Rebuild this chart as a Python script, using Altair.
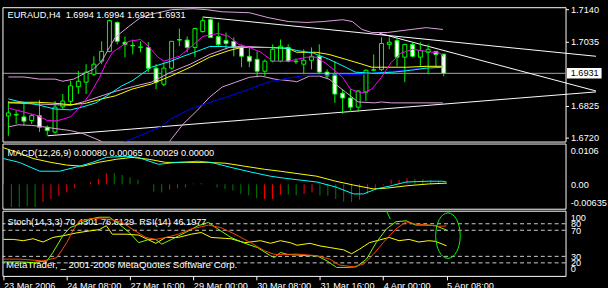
import altair as alt
import pandas as pd

W = 570
H_MAIN, H_MACD, H_STO = 136, 66, 66
FONT = "Liberation Sans"
FS = 9.3

# ---------------- data ----------------
title_text = "EURAUD,H4\u00a0\u00a01.6994 1.6994 1.6921 1.6931"
macd_text = "MACD(12,26,9) 0.00080 0.00065 0.00029 0.00000"
stoch_text = "Stoch(14,3,3) 70.4301 76.6129\u00a0\u00a0RSI(14) 46.1977"
copy_text = "MetaTrader, _ 2001-2006 MetaQuotes Software Corp."

date_labels = ["23 Mar 2006", "24 Mar 08:00", "27 Mar 16:00", "29 Mar 00:00",
               "30 Mar 08:00", "31 Mar 16:00", "4 Apr 00:00", "5 Apr 08:00"]
date_ticks = [0, 8, 16, 24, 32, 40, 48, 56]
price_ticks = [1.7140, 1.7035, 1.6825, 1.6720]
bid = 1.6931

opens = [1.6791, 1.6796, 1.6788, 1.6776, 1.6792, 1.6754, 1.6738, 1.6821, 1.6839, 1.6887,
         1.6902, 1.6928, 1.6971, 1.7003, 1.7098, 1.7033, 1.7023, 1.7016, 1.7016, 1.6948,
         1.6895, 1.6948, 1.7042, 1.7040, 1.7016, 1.7068, 1.7107, 1.7052, 1.7039, 1.7036,
         1.7016, 1.6987, 1.6977, 1.6938, 1.6971, 1.6971, 1.7016, 1.6971, 1.6961, 1.6974,
         1.6987, 1.6935, 1.6928, 1.6866, 1.6850, 1.6820, 1.6869, 1.6941, 1.6943, 1.7026,
         1.7039, 1.6984, 1.7026, 1.6984, 1.7000, 1.7003, 1.6994]
highs = [1.6840, 1.6809, 1.6834, 1.6798, 1.6843, 1.6760, 1.6840, 1.6863, 1.6906, 1.6939,
         1.6961, 1.6987, 1.7036, 1.7107, 1.7101, 1.7052, 1.7042, 1.7036, 1.7033, 1.6961,
         1.6967, 1.7036, 1.7078, 1.7052, 1.7081, 1.7114, 1.7111, 1.7098, 1.7065, 1.7049,
         1.7026, 1.7016, 1.7003, 1.6977, 1.7026, 1.7042, 1.7026, 1.6980, 1.7010, 1.7016,
         1.7026, 1.6944, 1.6971, 1.6879, 1.6879, 1.6876, 1.6944, 1.6993, 1.7049, 1.7049,
         1.7049, 1.7026, 1.7033, 1.7033, 1.7026, 1.7003, 1.6994]
lows = [1.6726, 1.6765, 1.6760, 1.6765, 1.6739, 1.6727, 1.6733, 1.6814, 1.6825, 1.6863,
        1.6863, 1.6922, 1.6961, 1.7000, 1.7026, 1.6984, 1.6993, 1.7000, 1.6935, 1.6879,
        1.6889, 1.6944, 1.7020, 1.7000, 1.6984, 1.7065, 1.7049, 1.7020, 1.7010, 1.6987,
        1.6951, 1.6951, 1.6918, 1.6922, 1.6967, 1.6967, 1.6967, 1.6961, 1.6928, 1.6944,
        1.6928, 1.6912, 1.6834, 1.6798, 1.6804, 1.6804, 1.6840, 1.6938, 1.6938, 1.7010,
        1.6954, 1.6902, 1.6984, 1.6954, 1.6928, 1.6954, 1.6921]
closes = [1.6801, 1.6794, 1.6774, 1.6792, 1.6754, 1.6743, 1.6820, 1.6840, 1.6890, 1.6905,
          1.6935, 1.6961, 1.7003, 1.7104, 1.7036, 1.7026, 1.7021, 1.7018, 1.6948, 1.6902,
          1.6948, 1.7036, 1.7040, 1.7016, 1.7078, 1.7104, 1.7049, 1.7026, 1.7029, 1.7016,
          1.6987, 1.6971, 1.6938, 1.6971, 1.7010, 1.7020, 1.6971, 1.6969, 1.6974, 1.6987,
          1.6935, 1.6922, 1.6863, 1.6850, 1.6820, 1.6873, 1.6941, 1.6943, 1.7029, 1.7033,
          1.6984, 1.7026, 1.6987, 1.7006, 1.7010, 1.6993, 1.6931]

magenta_bar = [0, 2, 3.75, 5, 6.25, 8, 9.25, 10.5, 11.75, 12.5, 13.4, 15.5, 17, 18, 19.25, 20,
               22, 23.4, 25, 27, 28.4, 29.6, 31, 32.5, 34, 36, 38.4, 39.6, 41, 43, 44, 45.5,
               46.75, 48, 49.25, 50.5, 52, 53.75, 55.5, 56]
magenta_val = [1.6817, 1.6804, 1.6792, 1.6776, 1.6775, 1.6788, 1.6821, 1.6863, 1.6918, 1.6961,
               1.7000, 1.7036, 1.7042, 1.7020, 1.6984, 1.6971, 1.6987, 1.7016, 1.7052, 1.7062,
               1.7052, 1.7026, 1.7016, 1.7000, 1.6971, 1.6971, 1.6984, 1.6984, 1.6961, 1.6918,
               1.6879, 1.6866, 1.6879, 1.6918, 1.6967, 1.6997, 1.7010, 1.7003, 1.6997, 1.6987]

cyan_bar = [0, 1.25, 3.75, 5.9, 8, 9.6, 11.25, 13, 14.6, 15.9, 18.4, 20.9, 22.5, 24.25, 25.9,
            27.5, 29.25, 31, 33.4, 36, 37.1, 39.25, 41.25, 43.4, 44.6, 46.75, 49.6, 51.75,
            53.75, 55.9]
cyan_val = [1.6847, 1.6839, 1.6828, 1.6814, 1.6811, 1.6821, 1.6834, 1.6863, 1.6890, 1.6906,
            1.6951, 1.6971, 1.6987, 1.7003, 1.7019, 1.7019, 1.7016, 1.7016, 1.7016, 1.7013,
            1.7006, 1.6997, 1.6977, 1.6951, 1.6935, 1.6931, 1.6935, 1.6941, 1.6948, 1.6951]

yellow_bar = [0, 3.75, 5.9, 8, 10, 12, 13.75, 15.9, 18.4, 20.9, 23.4, 25.9, 28.4, 30, 33.4, 36,
              37.1, 39.6, 41.25, 43.4, 45.5, 46.75, 48.75, 51.25, 53.75, 55.9]
yellow_val = [1.6836, 1.6836, 1.6833, 1.6828, 1.6833, 1.6847, 1.6857, 1.6879, 1.6896, 1.6922,
              1.6951, 1.6984, 1.7006, 1.7016, 1.7016, 1.7013, 1.7000, 1.7000, 1.6993, 1.6977,
              1.6961, 1.6951, 1.6951, 1.6951, 1.6954, 1.6954]

plummid_bar = [0, 8, 10, 13.4, 16.25, 18.4, 20.9, 23.4, 25.9, 28.4, 30, 33]
plummid_val = [1.6834, 1.6826, 1.6840, 1.6869, 1.6889, 1.6902, 1.6935, 1.6961, 1.6993, 1.7016,
               1.7020, 1.7016]

blue_bar = [13.4, 15.9, 19.6, 20.9, 23.4, 25.25, 28.4, 31, 33.4, 36, 38.4, 41.25, 45.5, 48,
            50.9, 53.75, 55.9]
blue_val = [1.6690, 1.6716, 1.6755, 1.6781, 1.6814, 1.6830, 1.6856, 1.6879, 1.6902, 1.6915,
            1.6925, 1.6925, 1.6928, 1.6935, 1.6941, 1.6951, 1.6954]

upper_bar = [0, 2, 4, 6, 7, 8.4, 9.6, 10.9, 12, 13, 13.75, 15.5, 17, 18.75, 21, 23.75, 25.5,
             27.5, 31, 33.4, 36, 38.4, 40.5, 43, 44.25, 45.5, 46.75, 48.75, 50.9, 53.75, 55.9]
upper_val = [1.6919, 1.6919, 1.6912, 1.6912, 1.6905, 1.6912, 1.6928, 1.6944, 1.6971, 1.7016,
             1.7049, 1.7085, 1.7114, 1.7127, 1.7140, 1.7143, 1.7140, 1.7133, 1.7130, 1.7114,
             1.7101, 1.7098, 1.7101, 1.7107, 1.7101, 1.7075, 1.7065, 1.7065, 1.7072, 1.7081,
             1.7075]

lower_bar = [0, 1.25, 3, 4.6, 6.25, 8, 9.6, 11.25, 12.1, 16, 19.5, 20.9, 22.5, 24.25, 25.9,
             27.5, 29.25, 31, 32.5, 34.25, 36.75, 37.1, 38.75, 40, 41.25, 43.4, 45, 47.1, 48,
             49.25, 55.9]
lower_val = [1.6755, 1.6762, 1.6760, 1.6755, 1.6749, 1.6743, 1.6733, 1.6716, 1.6706, 1.6667,
             1.6667, 1.6713, 1.6765, 1.6808, 1.6853, 1.6886, 1.6902, 1.6918, 1.6922, 1.6912,
             1.6905, 1.6903, 1.6922, 1.6922, 1.6912, 1.6869, 1.6837, 1.6834, 1.6837, 1.6834,
             1.6834]

trend_id = ["a", "a", "b", "b", "c", "c"]
trend_bar = [25.0, 75.6, 47.75, 75.6, 5.06, 75.6]
trend_val = [1.7116, 1.6987, 1.7062, 1.6873, 1.6726, 1.6870]

macd_sig_bar = [0, 1.75, 3.75, 6, 8, 10, 12, 14.25, 16.25, 18.4, 20.5, 23, 25.5, 28, 30.5, 33,
                35, 37.1, 39.6, 42, 44.25, 46.75, 48.4, 50.9, 53.75, 56]
macd_sig_val = [0.0095, 0.0083, 0.0067, 0.0057, 0.0050, 0.0047, 0.0057, 0.0065, 0.0070, 0.0065,
                0.0057, 0.0057, 0.0057, 0.0055, 0.0047, 0.0039, 0.0034, 0.0028, 0.0021, 0.0008,
                -0.0002, -0.0012, -0.0010, -0.0004, 0.0001, 0.0003]
macd_main_bar = [0, 2, 4.6, 7.1, 9.6, 11.25, 13, 15.5, 17, 19.6, 22, 24.6, 26.25, 28.75, 31.25,
                 33.75, 35.5, 37.1, 39.6, 42, 44.25, 45.5, 47.1, 48.75, 50.9, 53.75, 55.5, 56]
macd_main_val = [0.0067, 0.0057, 0.0034, 0.0034, 0.0047, 0.0057, 0.0070, 0.0073, 0.0070, 0.0052,
                 0.0057, 0.0060, 0.0057, 0.0044, 0.0032, 0.0021, 0.0016, 0.0012, 0.0006, -0.0007,
                 -0.0025, -0.0025, -0.0012, -0.0005, 0.0006, 0.0008, 0.0008, 0.0006]
hist_val = [-0.0059, -0.0059, -0.0059, -0.0057, -0.0059, -0.0046, -0.0038, -0.0030, -0.0021, -0.0010,
            0.0000, 0.0005, 0.0014, 0.0029, 0.0029, 0.0024, 0.0018, 0.0012, 0.0000, -0.0019,
            -0.0021, -0.0014, -0.0010, -0.0008, 0.0002, 0.0003, 0.0000, -0.0008, -0.0012, -0.0016,
            -0.0025, -0.0029, -0.0036, -0.0038, -0.0038, -0.0027, -0.0027, -0.0029, -0.0025, -0.0021,
            -0.0029, -0.0030, -0.0038, -0.0045, -0.0046, -0.0040, -0.0025, -0.0016, -0.0003, 0.0012,
            0.0012, 0.0016, 0.0014, 0.0014, 0.0011, 0.0008, 0.0003]
hist_dir = ["dn", "dn", "dn", "dn", "dn", "up", "up", "up", "up", "up",
            "up", "up", "up", "up", "dn", "dn", "dn", "dn", "dn", "dn",
            "dn", "up", "up", "dn", "up", "up", "dn", "dn", "dn", "dn",
            "dn", "dn", "dn", "up", "up", "up", "dn", "dn", "up", "up",
            "dn", "dn", "dn", "dn", "dn", "up", "up", "up", "up", "up",
            "up", "up", "dn", "dn", "dn", "dn", "dn"]
macd_edge_val = [0.0106, -0.00635]
macd_edge_txt = ["0.0106", "-0.00635"]

sto_main_bar = [0, 2.1, 3.75, 5.5, 6.25, 7.5, 8.4, 9.6, 10.9, 12.1, 13.4, 14.6, 15.9, 17.1, 18.4,
                19.25, 20, 21.25, 23, 24.6, 25.9, 27.1, 28.75, 30.5, 32.1, 33.75, 34.25, 35, 35.9,
                37.1, 38.4, 39.6, 40.9, 42.1, 43.4, 44.6, 45.9, 47.1, 48.4, 49.6, 50.9, 52.1, 53.4,
                54.6, 56]
sto_main_val = [21.5, 21.5, 20.5, 23, 36, 61.5, 74, 79.5, 87, 90, 90, 79.5, 66.6, 51, 56, 56,
                48.7, 56, 66.6, 77, 82, 72, 59, 50, 43.5, 31, 28, 36, 33, 32, 31, 31, 23, 13, 13,
                14, 26, 51, 72, 83, 84.6, 78, 78, 77, 70.4]
sto_sig_bar = [0, 2.1, 5, 6.75, 8, 8.75, 9.6, 11.25, 13.4, 15, 16.25, 18, 19.25, 20.5, 22.1,
               23.75, 25.9, 27.5, 29.25, 31.25, 33, 34.25, 35.9, 37.1, 39.6, 41.25, 42.5, 44.25,
               45.5, 46.75, 48, 49.6, 50.9, 52.1, 53.75, 55, 56]
sto_sig_val = [25.7, 25.7, 23, 28, 51, 69, 84.6, 88, 87, 82, 72, 59, 56, 59, 64, 72, 78, 74, 64,
               51, 38.5, 33, 33, 33.5, 31, 25.7, 16.5, 14, 18, 33, 51, 72, 83, 79.5, 78, 76, 76.6]
rsi_bar = [0, 1.25, 2.5, 3.75, 5, 6.25, 7.5, 9.25, 10.9, 12.1, 13, 13.75, 15.5, 17.1, 19.25,
           20.5, 22.1, 23.75, 25, 26.25, 28.75, 30.5, 32.5, 33.75, 35, 36.25, 37.1, 38.75, 40,
           41.25, 43, 44, 45, 46.25, 47.5, 48.75, 50, 51.25, 52.5, 53.75, 54.6, 56]
rsi_val = [56, 56, 54, 57, 52, 59, 61.5, 66, 69, 71, 77, 64, 64, 62.6, 50, 59, 59, 64, 66.6, 59,
           57, 51, 54, 50, 54, 51, 47, 50, 46, 43.5, 40, 34, 41, 51, 55, 59, 54, 56, 52, 54, 53,
           46.2]
sto_levels = [80, 70, 30, 20]
sto_edge_val = [100, 0]
sto_edge_txt = ["100", "0"]
mark_seg_bar = [48.4, 48.9]
mark_seg_val = [100, 87]
ellipse_bar = [56.18]
ellipse_val = [61.8]

# ---------------- scales / axes ----------------
xs = alt.Scale(domain=[-0.125, 71.04], nice=False, zero=False)
X_NONE = alt.X("bar:Q", scale=xs, axis=None)
x_axis = alt.Axis(orient="bottom", values=date_ticks,
                  labelExpr="%s[datum.value / 8]" % str(date_labels),
                  labelAlign="left", labelBaseline="top", tickSize=4, tickColor="white",
                  labelPadding=1.5, labelColor="white", labelFont=FONT, labelFontSize=FS,
                  grid=False, domain=False, title=None, labelFlush=False, labelOverlap=False)
X_STO = alt.X("bar:Q", scale=xs, axis=x_axis)

ms = alt.Scale(domain=[1.6707, 1.7148], nice=False, zero=False)
m_axis = alt.Axis(orient="right", values=price_ticks, format=".4f", tickSize=3,
                  tickColor="white", labelPadding=2, grid=False, domain=False, title=None,
                  labelColor="white", labelFont=FONT, labelFontSize=FS, labelOverlap=False)
cs = alt.Scale(domain=[-0.00635, 0.0106], nice=False, zero=False)
c_axis = alt.Axis(orient="right", values=[0], labelExpr="'0.00'", ticks=False, labelPadding=5,
                  grid=False, domain=False, title=None, labelColor="white", labelFont=FONT,
                  labelFontSize=FS)
ss = alt.Scale(domain=[0, 100], nice=False, zero=False)
s_axis = alt.Axis(orient="right", values=sto_levels, ticks=False, labelPadding=5, grid=False,
                  domain=False, title=None, labelColor="white", labelFont=FONT,
                  labelFontSize=FS, labelOverlap=False)


def yq(field, scale, axis):
    return alt.Y(field, type="quantitative", scale=scale, axis=axis)


def line(bars, vals, color, scale, axis, xenc, clip=True):
    df = pd.DataFrame({"bar": bars, "v": vals})
    return alt.Chart(df).mark_line(color=color, strokeWidth=1, clip=clip).encode(
        x=xenc, y=yq("v", scale, axis))


def label(text, x, y, size=FS, color="white"):
    return alt.Chart(pd.DataFrame({"t": [text]})).mark_text(
        align="left", baseline="middle", color=color, font=FONT, fontSize=size
    ).encode(x=alt.value(x), y=alt.value(y), text="t:N")


# ---------------- main panel ----------------
candles = pd.DataFrame({"bar": list(range(len(opens))), "o": opens, "h": highs,
                        "l": lows, "c": closes})

bid_df = pd.DataFrame({"v": [bid]})
bid_line = alt.Chart(bid_df).mark_rule(color="#a8a8a8", strokeWidth=1).encode(
    y=yq("v", ms, m_axis))

trend_df = pd.DataFrame({"id": trend_id, "bar": trend_bar, "v": trend_val})
trends = alt.Chart(trend_df).mark_line(color="white", strokeWidth=1, clip=False).encode(
    x=X_NONE, y=yq("v", ms, m_axis), detail="id:N")

wicks = alt.Chart(candles).mark_rule(color="#00ff00", strokeWidth=1, clip=True).encode(
    x=X_NONE, y=yq("l", ms, m_axis), y2="h")
bodies = alt.Chart(candles).mark_bar(width=4, stroke="#00ff00", strokeWidth=1,
                                     clip=True).encode(
    x=X_NONE, y=yq("o", ms, m_axis), y2="c",
    fill=alt.condition("datum.c >= datum.o", alt.value("black"), alt.value("white")))

box = alt.Chart(bid_df).mark_point(
    shape="M-1,-0.306L1,-0.306L1,0.306L-1,0.306Z", size=1225, filled=True,
    color="white", opacity=1).encode(x=alt.value(W + 19), y=yq("v", ms, m_axis))
box_txt = alt.Chart(bid_df).mark_text(align="left", baseline="middle", color="black",
                                      font=FONT, fontSize=FS).encode(
    x=alt.value(W + 5.2), y=yq("v", ms, m_axis), text=alt.Text("v:Q", format=".4f"))

main = alt.layer(
    bid_line, trends, wicks, bodies,
    line(upper_bar, upper_val, "#dda0dd", ms, m_axis, X_NONE),
    line(lower_bar, lower_val, "#dda0dd", ms, m_axis, X_NONE),
    line(blue_bar, blue_val, "#0000ff", ms, m_axis, X_NONE),
    line(plummid_bar, plummid_val, "#dda0dd", ms, m_axis, X_NONE),
    line(yellow_bar, yellow_val, "#ffff00", ms, m_axis, X_NONE),
    line(cyan_bar, cyan_val, "#00ffff", ms, m_axis, X_NONE),
    line(magenta_bar, magenta_val, "#ff00ff", ms, m_axis, X_NONE),
    label(title_text, 5.2, 8.3),
    box, box_txt,
).properties(width=W, height=H_MAIN)

# ---------------- MACD panel ----------------
hist_df = pd.DataFrame({"bar": list(range(len(hist_val))), "v": hist_val, "d": hist_dir})
hist = alt.Chart(hist_df).mark_rule(strokeWidth=1, clip=True).encode(
    x=X_NONE, y=yq("v", cs, c_axis), y2=alt.datum(0),
    color=alt.Color("d:N", scale=alt.Scale(domain=["up", "dn"], range=["#ff0000", "#008000"]),
                    legend=None))
medge = pd.DataFrame({"v": macd_edge_val, "t": macd_edge_txt})
medge_top = alt.Chart(medge.iloc[[0]]).mark_text(align="left", baseline="middle", dy=7.5,
                                                color="white", font=FONT, fontSize=FS).encode(
    x=alt.value(W + 5.2), y=yq("v", cs, c_axis), text="t:N")
medge_bot = alt.Chart(medge.iloc[[1]]).mark_text(align="left", baseline="middle", dy=-5.8,
                                                color="white", font=FONT, fontSize=FS).encode(
    x=alt.value(W + 5.2), y=yq("v", cs, c_axis), text="t:N")

macd = alt.layer(
    hist,
    line(macd_sig_bar, macd_sig_val, "#ffff00", cs, c_axis, X_NONE),
    line(macd_main_bar, macd_main_val, "#00ffff", cs, c_axis, X_NONE),
    label(macd_text, 5.2, 10),
    medge_top, medge_bot,
).properties(width=W, height=H_MACD)

# ---------------- Stochastic / RSI panel ----------------
lev_df = pd.DataFrame({"v": sto_levels})
levels = alt.Chart(lev_df).mark_rule(color="#cfcfcf", strokeWidth=1, strokeDash=[4, 3]).encode(
    y=yq("v", ss, s_axis))
sedge = pd.DataFrame({"v": sto_edge_val, "t": sto_edge_txt})
sedge_top = alt.Chart(sedge.iloc[[0]]).mark_text(align="left", baseline="middle", dy=7.5,
                                                color="white", font=FONT, fontSize=FS).encode(
    x=alt.value(W + 5.2), y=yq("v", ss, s_axis), text="t:N")
sedge_bot = alt.Chart(sedge.iloc[[1]]).mark_text(align="left", baseline="middle", dy=-6.5,
                                                color="white", font=FONT, fontSize=FS).encode(
    x=alt.value(W + 5.2), y=yq("v", ss, s_axis), text="t:N")
ell_df = pd.DataFrame({"bar": ellipse_bar, "v": ellipse_val})
ellipse = alt.Chart(ell_df).mark_point(
    shape="M0,-1A0.54,1 0 1,1 0,1A0.54,1 0 1,1 0,-1Z", size=2116, filled=False,
    color="#00ff00", strokeWidth=1, opacity=1).encode(x=X_STO, y=yq("v", ss, s_axis))

sto = alt.layer(
    levels,
    label(stoch_text, 5.2, 11),
    label(copy_text, 3.5, 54.5, size=9.8),
    line(rsi_bar, rsi_val, "#ffff00", ss, s_axis, X_STO),
    line(sto_main_bar, sto_main_val, "#7cfc00", ss, s_axis, X_STO),
    line(sto_sig_bar, sto_sig_val, "#ff4500", ss, s_axis, X_STO),
    line(mark_seg_bar, mark_seg_val, "#00ff00", ss, s_axis, X_STO, clip=False),
    ellipse,
    sedge_top, sedge_bot,
).properties(width=W, height=H_STO)

chart = alt.vconcat(main, macd, sto, spacing=2, bounds="flush").configure(
    background="black", padding={"left": 1.5, "top": 2.5, "right": 0, "bottom": 0}
).configure_view(stroke="white", strokeWidth=1)

chart.save("out.html", embed_options={"renderer": "svg", "actions": False})
